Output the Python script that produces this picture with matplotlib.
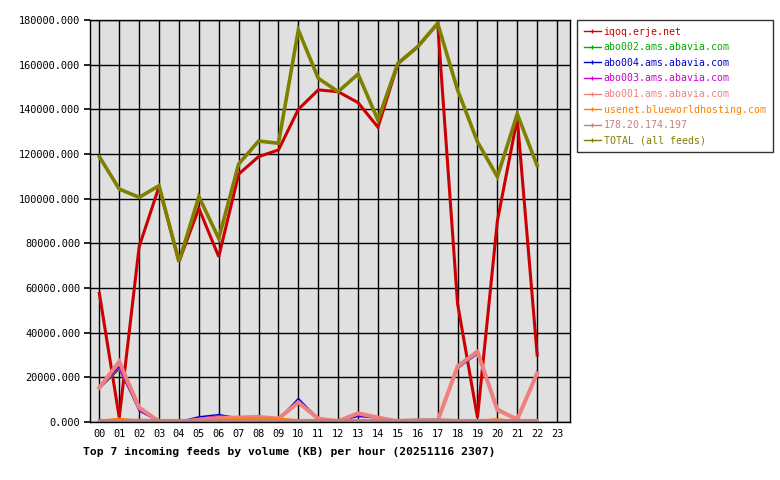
import matplotlib
matplotlib.use("Agg")
import matplotlib.pyplot as plt
from matplotlib.lines import Line2D

plt.rcParams['font.family'] = ['DejaVu Sans Mono']

hours = ["%02d" % h for h in range(24)]

# KB per hour, hours 00..22 (hour 23 not yet recorded)
iqoq = [57600, 2000, 78500, 105400, 71800, 95700, 74000, 111000, 118800, 121800, 140000, 148700,
        147900, 143000, 132000, 160400, 168000, 178400, 53000, 2000, 90000, 136000, 30000]
abo002 = [15000, 23500, 5500, 200, 100, 1500, 2500, 1800, 1500, 1200, 9500, 1800,
          500, 4300, 2000, 300, 200, 400, 25500, 32000, 6000, 1000, 22000]
abo004 = [15300, 24800, 5000, 200, 100, 2300, 3300, 1800, 1500, 1200, 10500, 1500,
          500, 2500, 1800, 300, 200, 400, 24000, 30500, 5500, 900, 22800]
abo003 = [15000, 24000, 5300, 200, 100, 1500, 2800, 2000, 1500, 1200, 9000, 1500,
          500, 3000, 2200, 300, 200, 400, 25000, 31000, 6200, 1000, 21500]
abo001 = [15400, 27000, 6500, 200, 100, 1000, 1800, 2000, 2300, 1500, 8800, 1500,
          400, 3900, 2000, 300, 300, 500, 24800, 31500, 5400, 1200, 21800]
usenet = [500, 1500, 600, 200, 100, 400, 1000, 1500, 1800, 1600, 800, 300,
          200, 300, 300, 100, 100, 100, 300, 600, 1300, 300, 200]
ip_feed = [700, 700, 800, 700, 700, 700, 800, 700, 800, 700, 700, 700,
           700, 700, 700, 700, 1000, 1000, 700, 700, 700, 700, 700]
total = [118800, 104300, 100600, 105800, 71800, 100900, 82200, 115500, 125800, 124800, 175500, 153900,
         147900, 155800, 135200, 160600, 168100, 178500, 148700, 125500, 109800, 137900, 114800]

names = ["iqoq.erje.net", "abo002.ams.abavia.com", "abo004.ams.abavia.com", "abo003.ams.abavia.com",
         "abo001.ams.abavia.com", "usenet.blueworldhosting.com", "178.20.174.197", "TOTAL (all feeds)"]
series = [iqoq, abo002, abo004, abo003, abo001, usenet, ip_feed, total]
colors = ["#CC0000", "#00AA00", "#0000CC", "#CC00CC", "#F08080", "#FF8000", "#C08080", "#808000"]
widths = [2.2, 1.1, 1.1, 1.1, 2.9, 1.5, 2.2, 2.6]

fig = plt.figure(figsize=(7.8, 4.8), dpi=100)
ax = fig.add_axes([90 / 780, 58 / 480, 480 / 780, 402 / 480])
ax.set_facecolor("#E0E0E0")

for vals, c, w in zip(series, colors, widths):
    ax.plot(range(len(vals)), vals, color=c, lw=w, solid_joinstyle="miter")

ax.set_xlim(-0.47, 23.65)
ax.set_ylim(0, 180000)
ax.set_xticks(range(24))
ax.set_xticklabels(hours)
ax.set_yticks(range(0, 180001, 20000))
ax.set_yticklabels(["%.3f" % v for v in range(0, 180001, 20000)])
ax.grid(True, color="black", lw=1)
ax.set_axisbelow(True)
ax.tick_params(axis="x", length=0, pad=5, labelsize=7.4)
ax.tick_params(axis="y", length=4, width=1.2, pad=3, labelsize=7.4)
for s in ax.spines.values():
    s.set_linewidth(1)

fig.text(83 / 780, 1 - 452 / 480, "Top 7 incoming feeds by volume (KB) per hour (20251116 2307)",
         fontsize=8.2, fontweight="bold", va="center", ha="left")

handles = [Line2D([], [], color=c, lw=1, marker="|", ms=3) for c in colors]
leg = fig.legend(handles, names, loc="upper left", bbox_to_anchor=(577 / 780, 1 - 20 / 480),
                 fontsize=7.1, frameon=True, fancybox=False, edgecolor="black", borderaxespad=0,
                 labelspacing=0.56, handlelength=1.7, handletextpad=0.3, borderpad=0.7)
leg.get_frame().set_linewidth(1)
for t, c in zip(leg.get_texts(), colors):
    t.set_color(c)

fig.savefig("out.png", dpi=100)
